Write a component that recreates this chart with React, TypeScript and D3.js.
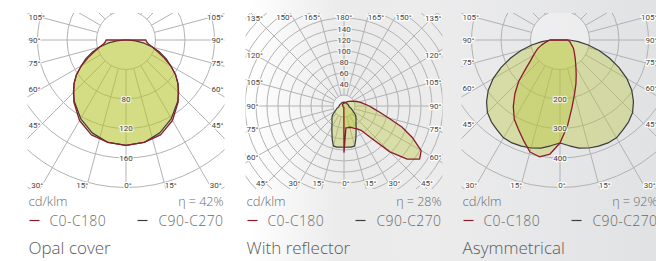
import React from "react";
import * as d3 from "d3";

const W = 656;
const H = 261;

// ---------- data (cd/klm) ----------
// Panel 1: Opal cover (symmetric)
const GAMMA_OPAL = [0, 10, 20, 30, 40, 45, 50, 55, 60, 65, 70, 75, 80, 85, 90, 95, 180];
const OPAL_C0 = [143, 141, 137, 126, 110, 100, 92, 82, 70, 57, 45, 37, 31, 28, 27, 0, 0];
const OPAL_C90 = [143, 141, 134, 123, 109, 101, 92, 82, 70, 60, 49, 37, 25, 13, 2, 0, 0];

// Panel 2: With reflector
const GAMMA_REFL = [0, 5, 10, 15, 20, 25, 30, 35, 40, 45, 50, 55, 60, 65, 70, 75, 80, 85, 90, 100, 110, 120, 135, 150, 165, 180];
const REFL_C0 = [84, 40, 40, 40, 42, 45, 48, 54, 74, 118, 150, 168, 162, 138, 112, 84, 66, 54, 46, 33, 25, 18, 12, 8, 6, 5];
const REFL_C180 = [84, 3, 2, 2, 2, 2, 2, 2, 2, 2, 2, 2, 2, 2, 2, 2, 2, 2, 2, 2, 2, 3, 4, 4, 5, 5];
const REFL_C90 = [75, 75, 76, 75, 63, 52, 44, 38, 34, 31, 28, 23, 19, 16, 14, 12, 10, 9, 9, 8, 8, 7, 7, 7, 7, 7];

// Panel 3: Asymmetrical
const GAMMA_ASYM = [0, 5, 10, 15, 20, 25, 30, 35, 40, 45, 50, 55, 60, 65, 70, 75, 80, 85, 90, 95, 180];
const ASYM_C0 = [349, 292, 233, 190, 158, 130, 108, 92, 80, 70, 63, 57, 51, 45, 40, 37, 34, 30, 27, 0, 0];
const ASYM_C180 = [349, 388, 402, 393, 362, 334, 310, 276, 238, 198, 152, 122, 104, 90, 78, 64, 52, 42, 34, 0, 0];
const ASYM_C90 = [349, 360, 372, 379, 383, 385, 383, 372, 362, 348, 325, 297, 262, 220, 178, 137, 97, 62, 32, 0, 0];

const TITLES = ["Opal cover", "With reflector", "Asymmetrical"];
const EFFICIENCY = ["42%", "28%", "92%"];
const RING_STEP = [40, 20, 100];
const RING_MAX = [320, 280, 800];
const RING_LABELS = [[80, 120, 160], [40, 60, 80, 100, 120, 140], [200, 300, 400]];
const ANGLE_TICKS = [0, 15, 30, 45, 60, 75, 90, 105, 120, 135, 150, 165, 180];
const LEGEND = ["C0-C180", "C90-C270"];
const UNIT = "cd/klm";

// ---------- layout ----------
const PANEL_CX = [126, 344, 560];
const PANEL_CY = [40, 106, 40];
const RING_PX = [29.5, 11, 29.5];
const LABEL_D = [85, 88, 84];
const BOTTOM_LABEL_Y = [185, 183, 185];
const HALF_W = 98.5;
const TOP = 13;
const BOTTOM = 189;

const RED = "#8a1c2d";
const DARK = "#3c3c3c";
const FILL = "rgba(182,198,48,0.36)";
const GRID = "#b2b2b2";

type Panel = {
  gamma: number[];
  left: number[];
  right: number[];
  sym: number[];
};

const PANELS: Panel[] = [
  { gamma: GAMMA_OPAL, left: OPAL_C0, right: OPAL_C0, sym: OPAL_C90 },
  { gamma: GAMMA_REFL, left: REFL_C180, right: REFL_C0, sym: REFL_C90 },
  { gamma: GAMMA_ASYM, left: ASYM_C180, right: ASYM_C0, sym: ASYM_C90 },
];

function polarPath(gamma: number[], left: number[], right: number[], r: (v: number) => number) {
  const pts: [number, number][] = [];
  for (let i = gamma.length - 1; i >= 0; i--) pts.push([Math.PI + (gamma[i] * Math.PI) / 180, r(left[i])]);
  for (let i = 0; i < gamma.length; i++) pts.push([Math.PI - (gamma[i] * Math.PI) / 180, r(right[i])]);
  return d3
    .lineRadial<[number, number]>()
    .angle((d) => d[0])
    .radius((d) => d[1])
    .curve(d3.curveLinearClosed)(pts) as string;
}

const tickStyle: React.CSSProperties = {
  fontFamily: "Roboto, 'Liberation Sans', sans-serif",
  fontSize: 8,
  fill: "#444444",
  stroke: "#ffffff",
  strokeWidth: 2.6,
  paintOrder: "stroke",
  strokeLinejoin: "round",
};

function PolarPanel({ idx }: { idx: number }) {
  const p = PANELS[idx];
  const cx = PANEL_CX[idx];
  const cy = PANEL_CY[idx];
  const left = cx - HALF_W;
  const right = cx + HALF_W;
  const step = RING_STEP[idx];
  const r = d3.scaleLinear().domain([0, step]).range([0, RING_PX[idx]]);
  const rings = d3.range(step, RING_MAX[idx] + 1, step);
  const clipId = `clip${idx}`;
  const hasTop = idx === 1;
  const D = LABEL_D[idx];
  const yB = BOTTOM_LABEL_Y[idx];
  const yT = 17;

  const rays: { theta: number; side: number }[] = [];
  ANGLE_TICKS.forEach((t) => {
    if (t === 0 || t === 180) rays.push({ theta: t, side: 0 });
    else {
      rays.push({ theta: t, side: -1 });
      rays.push({ theta: t, side: 1 });
    }
  });

  const labels: { x: number; y: number; anchor: string; text: string }[] = [];
  rays.forEach(({ theta, side }) => {
    const text = `${theta}°`;
    const tr = (theta * Math.PI) / 180;
    const s = Math.sin(tr);
    const c = Math.cos(tr);
    if (theta === 0) {
      labels.push({ x: cx + 2, y: yB, anchor: "middle", text });
      return;
    }
    if (theta === 180) {
      if (hasTop) labels.push({ x: cx, y: yT, anchor: "middle", text });
      return;
    }
    const yc = cy + (D * c) / s;
    if (yc >= 14 && yc <= 180) {
      labels.push({ x: side < 0 ? left + 1 : right - 1, y: yc, anchor: side < 0 ? "start" : "end", text });
      return;
    }
    if (c > 0) {
      const t = (yB - cy) / c;
      labels.push({ x: cx + side * t * s + (side < 0 ? 1 : 0), y: yB, anchor: side < 0 ? "end" : "start", text });
      return;
    }
    if (hasTop) {
      const t = (yT - cy) / c;
      labels.push({ x: cx + side * t * s, y: yT, anchor: side < 0 ? "end" : "start", text });
    }
  });

  const inner = r(step);
  const far = 400;
  const symPath = polarPath(p.gamma, p.sym, p.sym, r);
  const mainPath = polarPath(p.gamma, p.left, p.right, r);

  return (
    <g>
      <defs>
        <clipPath id={clipId}>
          <rect x={left} y={TOP} width={HALF_W * 2} height={BOTTOM - TOP} />
        </clipPath>
      </defs>
      <g clipPath={`url(#${clipId})`}>
        <circle cx={cx} cy={cy} r={inner} fill="#ffffff" fillOpacity={0.3} />
        {rings.map((v) => (
          <circle key={v} cx={cx} cy={cy} r={r(v)} fill="none" stroke={GRID} strokeWidth={1} />
        ))}
        {rays.map(({ theta, side }, i) => {
          const tr = (theta * Math.PI) / 180;
          const dx = (side === 0 ? 0 : side) * Math.sin(tr);
          const dy = Math.cos(tr);
          return (
            <line
              key={i}
              x1={cx + dx * inner}
              y1={cy + dy * inner}
              x2={cx + dx * far}
              y2={cy + dy * far}
              stroke={GRID}
              strokeWidth={1}
            />
          );
        })}
      </g>
      <g transform={`translate(${cx},${cy})`}>
        <path d={symPath} fill={FILL} stroke="none" />
        <path d={mainPath} fill={FILL} stroke="none" />
        <path d={symPath} fill="none" stroke={DARK} strokeWidth={1.2} strokeLinejoin="round" />
        <path d={mainPath} fill="none" stroke={RED} strokeWidth={1.3} strokeLinejoin="round" />
      </g>
      {RING_LABELS[idx].map((v) => (
        <text
          key={v}
          x={cx}
          y={idx === 1 ? cy - r(v) : cy + r(v)}
          dy="0.35em"
          textAnchor="middle"
          style={{ ...tickStyle, stroke: "rgba(255,255,255,0.7)" }}
        >
          {v}
        </text>
      ))}
      {labels.map((l, i) => (
        <text key={i} x={l.x} y={l.y} dy="0.35em" textAnchor={l.anchor as any} style={tickStyle}>
          {l.text}
        </text>
      ))}
      <g style={{ fontFamily: "'Open Sans', 'Noto Sans', sans-serif", fontWeight: 300 }}>
        <text x={left + 1} y={205.5} fontSize={13} fill="#6a6a6a">
          {UNIT}
        </text>
        <text x={right - 1} y={205.5} fontSize={12.5} fill="#6a6a6a" textAnchor="end">
          {`η = ${EFFICIENCY[idx]}`}
        </text>
        <line x1={left + 2} x2={left + 12} y1={220.5} y2={220.5} stroke={RED} strokeWidth={1.2} />
        <text x={left + 22} y={225.5} fontSize={14} fill="#6a6a6a" letterSpacing={0.4}>
          {LEGEND[0]}
        </text>
        <line x1={right - 87} x2={right - 77} y1={220.5} y2={220.5} stroke={DARK} strokeWidth={1.2} />
        <text x={right - 1} y={225.5} fontSize={14} fill="#6a6a6a" textAnchor="end" letterSpacing={0.4}>
          {LEGEND[1]}
        </text>
        <text x={left + 1} y={254} fontSize={17} fill="#5a5a5a">
          {TITLES[idx]}
        </text>
      </g>
    </g>
  );
}

export default function App() {
  return (
    <svg
      width={W}
      height={H}
      viewBox={`0 0 ${W} ${H}`}
      style={{ position: "absolute", left: 0, top: 0, display: "block" }}
    >
      <defs>
        <linearGradient id="bg" x1="0" x2="1" y1="0" y2="0">
          <stop offset="0" stopColor="#ffffff" />
          <stop offset="0.38" stopColor="#ffffff" />
          <stop offset="0.52" stopColor="#ebebec" />
          <stop offset="0.66" stopColor="#ececed" />
          <stop offset="1" stopColor="#e1e2e4" />
        </linearGradient>
      </defs>
      <rect x={0} y={0} width={W} height={H} fill="url(#bg)" />
      {PANELS.map((_, i) => (
        <PolarPanel key={i} idx={i} />
      ))}
    </svg>
  );
}
